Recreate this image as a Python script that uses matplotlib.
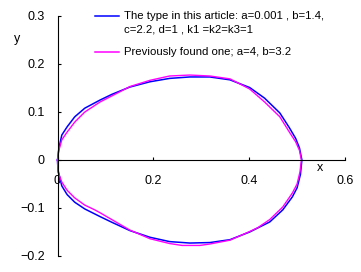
import matplotlib
matplotlib.use("Agg")
import matplotlib.pyplot as plt
from matplotlib.lines import Line2D

# ---- data ----
blue_upper_x = [0, 0.003, 0.009, 0.02, 0.036, 0.057, 0.089, 0.114, 0.151, 0.193, 0.234,
                0.276, 0.318, 0.36, 0.401, 0.432, 0.464, 0.484, 0.497, 0.505, 0.51]
blue_upper_y = [0, 0.025, 0.052, 0.069, 0.09, 0.108, 0.125, 0.137, 0.152, 0.163, 0.170,
                0.173, 0.173, 0.167, 0.151, 0.129, 0.098, 0.067, 0.045, 0.025, 0]
blue_lower_x = [0, 0.001, 0.009, 0.02, 0.036, 0.057, 0.089, 0.114, 0.151, 0.193, 0.234,
                0.276, 0.318, 0.36, 0.401, 0.443, 0.47, 0.49, 0.500, 0.507, 0.51]
blue_lower_y = [0, -0.021, -0.054, -0.072, -0.088, -0.102, -0.118, -0.130, -0.147, -0.161, -0.170,
                -0.173, -0.172, -0.166, -0.150, -0.129, -0.104, -0.077, -0.058, -0.030, 0]

mag_upper_x = [0, 0.002, 0.009, 0.02, 0.036, 0.057, 0.089, 0.13, 0.151, 0.193, 0.234,
               0.276, 0.318, 0.36, 0.401, 0.432, 0.464, 0.484, 0.497, 0.505, 0.509]
mag_upper_y = [0, 0.017, 0.042, 0.058, 0.079, 0.100, 0.121, 0.142, 0.153, 0.166, 0.175,
               0.177, 0.175, 0.169, 0.148, 0.121, 0.090, 0.058, 0.038, 0.020, 0]
mag_lower_x = [0, 0.001, 0.009, 0.02, 0.036, 0.057, 0.078, 0.089, 0.12, 0.151, 0.193, 0.234,
               0.26, 0.297, 0.318, 0.36, 0.401, 0.418, 0.443, 0.47, 0.49, 0.500, 0.506, 0.509]
mag_lower_y = [0, -0.025, -0.046, -0.063, -0.079, -0.094, -0.104, -0.110, -0.128, -0.146, -0.164, -0.174,
               -0.178, -0.178, -0.175, -0.167, -0.149, -0.141, -0.124, -0.098, -0.069, -0.050, -0.025, 0]

legend_labels = ["The type in this article: a=0.001 , b=1.4,\nc=2.2, d=1 , k1 =k2=k3=1",
                 "Previously found one; a=4, b=3.2"]
x_ticks = [0, 0.2, 0.4, 0.6]
x_tick_labels = ["0", "0.2", "0.4", "0.6"]
y_ticks = [-0.2, -0.1, 0, 0.1, 0.2, 0.3]
y_tick_labels = ["\u22120.2", "\u22120.1", "0", "0.1", "0.2", "0.3"]

BLUE = "#0000FF"
MAGENTA = "#FF00FF"
FONT = ["Liberation Sans", "DejaVu Sans"]

fig = plt.figure(figsize=(3.61, 2.72), dpi=100)
ax = fig.add_axes([57.5 / 361, 16 / 272, (345 - 57.5) / 361, 240 / 272])

ax.plot(blue_upper_x + blue_lower_x[::-1], blue_upper_y + blue_lower_y[::-1],
        color=BLUE, lw=1.1, clip_on=False)
ax.plot(mag_upper_x + mag_lower_x[::-1], mag_upper_y + mag_lower_y[::-1],
        color=MAGENTA, lw=1.0, clip_on=False)

ax.set_xlim(0, 0.6)
ax.set_ylim(-0.2, 0.3)
ax.spines["left"].set_position(("data", 0))
ax.spines["bottom"].set_position(("data", 0))
ax.spines["top"].set_visible(False)
ax.spines["right"].set_visible(False)
for s in ("left", "bottom"):
    ax.spines[s].set_linewidth(0.8)

ax.set_xticks(x_ticks)
ax.set_xticklabels(x_tick_labels, family=FONT, fontsize=9)
ax.set_yticks(y_ticks)
ax.set_yticklabels(y_tick_labels, family=FONT, fontsize=9)
ax.tick_params(axis="both", direction="in", length=2.5, width=0.8, colors="black")
ax.tick_params(axis="x", pad=10.5)
ax.tick_params(axis="y", pad=9)

ax.text(-0.141, 0.905, "y", transform=ax.transAxes, ha="center", va="center",
        family=FONT, fontsize=9)
ax.text(0.547, -0.0165, "x", ha="center", va="center", family=FONT, fontsize=9)

# legend (drawn manually to align handles with the first text line)
lx0, lx1, tx = 0.130, 0.214, 0.231
rows = [(1.0, BLUE), (0.852, MAGENTA)]
for (yy, col), lab in zip(rows, legend_labels):
    ax.add_line(Line2D([lx0, lx1], [yy, yy], transform=ax.transAxes, color=col,
                       lw=1.1, clip_on=False))
    ax.text(tx, yy + 0.02, lab, transform=ax.transAxes, ha="left", va="top",
            family=FONT, fontsize=8.2, linespacing=1.45)

fig.savefig("out.png", dpi=100)
